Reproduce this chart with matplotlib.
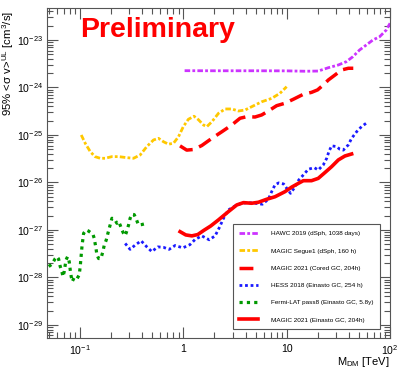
import matplotlib
matplotlib.use("Agg")
import matplotlib.pyplot as plt
import matplotlib.ticker as mticker
import numpy as np

plt.rcParams['font.family'] = ['Liberation Sans', 'DejaVu Sans']
plt.rcParams['mathtext.fontset'] = 'custom'
plt.rcParams['mathtext.rm'] = 'Liberation Sans'
plt.rcParams['mathtext.it'] = 'Liberation Sans:italic'
plt.rcParams['mathtext.default'] = 'regular'

# --- data (mass in TeV, <sigma v> UL in cm^3/s) ---
hawc_m = [1.03, 2.0, 5.0, 10.0, 15.0, 20.2, 25.3, 31.6, 37.7, 43.7, 50.7, 58.9, 68.2, 79.2, 91.9, 100.0]
hawc_sv = [2.26e-24, 2.25e-24, 2.25e-24, 2.24e-24, 2.2e-24, 2.22e-24, 2.61e-24, 2.98e-24, 3.49e-24,
           4.45e-24, 6.16e-24, 7.85e-24, 1.0e-23, 1.17e-23, 1.62e-23, 2.25e-23]

segue_m = [0.103, 0.1125, 0.126, 0.14, 0.157, 0.175, 0.204, 0.237, 0.285, 0.33, 0.383, 0.444, 0.515,
           0.576, 0.644, 0.719, 0.804, 0.899, 1.0, 1.12, 1.27, 1.40, 1.57, 1.69, 1.89, 2.19, 2.54,
           2.94, 3.42, 3.96, 4.59, 5.73, 7.16, 8.61, 10.0]
segue_sv = [1.0e-25, 6.7e-26, 4.45e-26, 3.5e-26, 3.23e-26, 3.23e-26, 3.5e-26, 3.5e-26, 3.33e-26,
            3.23e-26, 3.8e-26, 5.7e-26, 7.85e-26, 8.5e-26, 7.2e-26, 6.4e-26, 6.7e-26, 9.2e-26,
            1.5e-25, 2.14e-25, 2.48e-25, 2.1e-25, 1.62e-25, 1.5e-25, 1.9e-25, 2.86e-25, 3.53e-25,
            3.53e-25, 3.2e-25, 3.36e-25, 3.94e-25, 5.0e-25, 5.9e-25, 7.55e-25, 1.04e-24]

cored_m = [0.93, 1.08, 1.26, 1.51, 1.89, 2.36, 2.94, 3.54, 4.11, 4.94, 5.73, 6.65, 8.0, 9.6, 11.6,
           14.5, 17.4, 19.9, 22.6, 25.3, 29.3, 34.0, 39.5, 44.1]
cored_sv = [5.9e-26, 4.8e-26, 4.95e-26, 6.0e-26, 8.5e-26, 1.17e-25, 1.62e-25, 2.25e-25, 2.43e-25,
            2.39e-25, 2.64e-25, 3.2e-25, 4.14e-25, 4.65e-25, 5.65e-25, 7.2e-25, 7.9e-25, 8.9e-25,
            1.13e-24, 1.44e-24, 1.83e-24, 2.34e-24, 2.54e-24, 2.54e-24]

hess_m = [0.274, 0.306, 0.342, 0.391, 0.444, 0.496, 0.567, 0.644, 0.729, 0.833, 0.99, 1.16, 1.30,
          1.51, 1.78, 2.03, 2.25, 2.45, 2.73, 3.17, 3.67, 4.27, 4.94, 5.82, 6.65, 7.16, 7.71, 8.37,
          9.35, 10.0, 10.9, 12.0, 13.1, 14.5, 16.2, 18.5, 20.2, 22.6, 24.4, 25.6, 27.2, 30.4, 32.7,
          35.3, 39.5, 42.5, 47.5, 53.0, 61.5]
hess_sv = [5.2e-28, 3.9e-28, 4.8e-28, 5.9e-28, 4.4e-28, 3.5e-28, 4.4e-28, 4.3e-28, 3.9e-28, 4.7e-28,
           4.2e-28, 4.9e-28, 6.3e-28, 7.5e-28, 6.2e-28, 7.5e-28, 1.16e-27, 1.76e-27, 2.64e-27,
           3.2e-27, 3.65e-27, 3.76e-27, 3.65e-27, 3.48e-27, 4.43e-27, 6.4e-27, 8.9e-27, 9.8e-27,
           9.3e-27, 7.55e-27, 5.9e-27, 8.0e-27, 1.13e-26, 1.44e-26, 1.9e-26, 2.05e-26, 1.83e-26,
           2.34e-26, 3.23e-26, 4.45e-26, 5.9e-26, 5.7e-26, 5.0e-26, 4.8e-26, 6.2e-26, 8.5e-26,
           1.17e-25, 1.5e-25, 1.9e-25]

fermi_m = [0.0499, 0.0536, 0.0577, 0.060, 0.0622, 0.0645, 0.067, 0.0685, 0.0705, 0.0733, 0.076,
           0.0788, 0.0806, 0.0824, 0.0843, 0.088, 0.0935, 0.0984, 0.1007, 0.103, 0.105, 0.1086,
           0.115, 0.121, 0.1336, 0.1375, 0.143, 0.146, 0.1517, 0.1596, 0.1668, 0.172, 0.1796,
           0.1866, 0.196, 0.204, 0.216, 0.228, 0.2365, 0.245, 0.255, 0.264, 0.274, 0.2845, 0.2955,
           0.306, 0.318, 0.335, 0.35, 0.369, 0.397, 0.444]
fermi_sv = [1.7e-28, 1.9e-28, 2.5e-28, 2.74e-28, 2.45e-28, 1.7e-28, 1.32e-28, 1.04e-28, 1.32e-28,
            2.33e-28, 2.74e-28, 2.15e-28, 1.44e-28, 1.04e-28, 8.2e-29, 9.9e-29, 9.3e-29, 1.13e-28,
            1.7e-28, 3.0e-28, 4.8e-28, 8.5e-28, 1.0e-27, 9.5e-28, 8.1e-28, 6.7e-28, 4.1e-28,
            3.0e-28, 2.5e-28, 2.5e-28, 3.5e-28, 4.8e-28, 6.1e-28, 8.5e-28, 1.27e-27, 1.76e-27,
            1.7e-27, 1.38e-27, 1.5e-27, 1.27e-27, 1.0e-27, 8.5e-28, 7.6e-28, 9.5e-28, 1.27e-27,
            1.76e-27, 2.14e-27, 2.1e-27, 1.7e-27, 1.27e-27, 1.3e-27, 1.38e-27]

einasto_m = [0.931, 1.057, 1.21, 1.38, 1.58, 1.84, 2.19, 2.73, 3.29, 3.82, 4.59, 5.33, 6.41, 7.71,
             9.63, 11.2, 13.0, 14.5, 17.4, 20.2, 23.4, 27.2, 31.6, 36.6, 42.5]
einasto_sv = [9.2e-28, 7.85e-28, 7.5e-28, 8.0e-28, 9.8e-28, 1.21e-27, 1.63e-27, 2.43e-27, 3.36e-27,
              3.76e-27, 3.65e-27, 3.83e-27, 4.43e-27, 5.0e-27, 6.4e-27, 8.0e-27, 9.6e-27, 1.09e-26,
              1.09e-26, 1.22e-26, 1.61e-26, 2.15e-26, 2.98e-26, 3.61e-26, 3.98e-26]

labels = ["HAWC 2019 (dSph, 1038 days)",
          "MAGIC Segue1 (dSph, 160 h)",
          "MAGIC 2021 (Cored GC, 204h)",
          "HESS 2018 (Einasto GC, 254 h)",
          "Fermi-LAT pass8 (Einasto GC, 5.8y)",
          "MAGIC 2021 (Einasto GC, 204h)"]

x_ticks = [0.1, 1, 10, 100]
x_ticklabels = [r'$10^{-1}$', '1', '10', r'$10^{2}$']
y_ticks = [1e-29, 1e-28, 1e-27, 1e-26, 1e-25, 1e-24, 1e-23]

fig = plt.figure(figsize=(3.98, 3.68), dpi=100)
ax = fig.add_axes([0.118, 0.0815, 0.862, 0.8965])

ax.plot(hawc_m, hawc_sv, color='#cc33ff', lw=2.0, ls=(0, (2, 0.8, 1, 0.8)), label=labels[0])
ax.plot(segue_m, segue_sv, color='#ffc800', lw=2.0, ls=(0, (2, 0.8, 1, 0.8)), label=labels[1])
ax.plot(cored_m, cored_sv, color='#ff0000', lw=2.5, ls=(0, (4, 2)), label=labels[2])
ax.plot(hess_m, hess_sv, color='#1a1aff', lw=2.0, ls=(0, (1, 1)), label=labels[3])
ax.plot(fermi_m, fermi_sv, color='#009900', lw=2.3, ls=(0, (1, 1.3)), label=labels[4])
ax.plot(einasto_m, einasto_sv, color='#ff0000', lw=2.6, ls='-', label=labels[5])

ax.set_xscale('log')
ax.set_yscale('log')
ax.set_xlim(0.048, 100)
ax.set_ylim(5.3e-30, 4.7e-23)

ax.xaxis.set_major_locator(mticker.FixedLocator(x_ticks))
ax.xaxis.set_major_formatter(mticker.FixedFormatter(x_ticklabels))
ax.xaxis.set_minor_locator(mticker.LogLocator(base=10, subs=np.arange(2, 10), numticks=20))
ax.xaxis.set_minor_formatter(mticker.NullFormatter())
ax.yaxis.set_major_locator(mticker.FixedLocator(y_ticks))
ax.yaxis.set_major_formatter(mticker.LogFormatterSciNotation())
ax.yaxis.set_minor_locator(mticker.LogLocator(base=10, subs=np.arange(2, 10), numticks=20))
ax.yaxis.set_minor_formatter(mticker.NullFormatter())

ax.tick_params(which='both', direction='in', top=True, right=True, colors='#555555',
               labelcolor='black', labelsize=7.6)
ax.tick_params(which='major', length=8, width=0.8)
ax.tick_params(which='minor', length=4, width=0.8)
ax.tick_params(axis='x', pad=4)
ax.tick_params(axis='y', pad=3)
for s in ax.spines.values():
    s.set_color('#555555')
    s.set_linewidth(0.8)

fig.text(0.021, 0.972, r'95% <$\sigma$ v>$^{UL}$ [cm$^{3}$/s]', rotation=90,
         ha='center', va='top', fontsize=8.2)
fig.text(0.98, 0.016, r'M$_{DM}$ [TeV]', ha='right', va='center', fontsize=8)

ax.text(0.096, 0.912, 'Preliminary', transform=ax.transAxes, color='#ff0000',
        fontsize=20.5, fontweight='bold', ha='left', va='baseline')

leg = ax.legend(loc='lower left', bbox_to_anchor=(0.542, 0.027), fontsize=4.6,
                frameon=True, fancybox=False, edgecolor='#555555', framealpha=1,
                handlelength=2.9, handletextpad=2.1, labelspacing=1.85,
                borderpad=1.0, borderaxespad=0)
leg.get_frame().set_linewidth(0.8)

fig.savefig('out.png', dpi=100)
